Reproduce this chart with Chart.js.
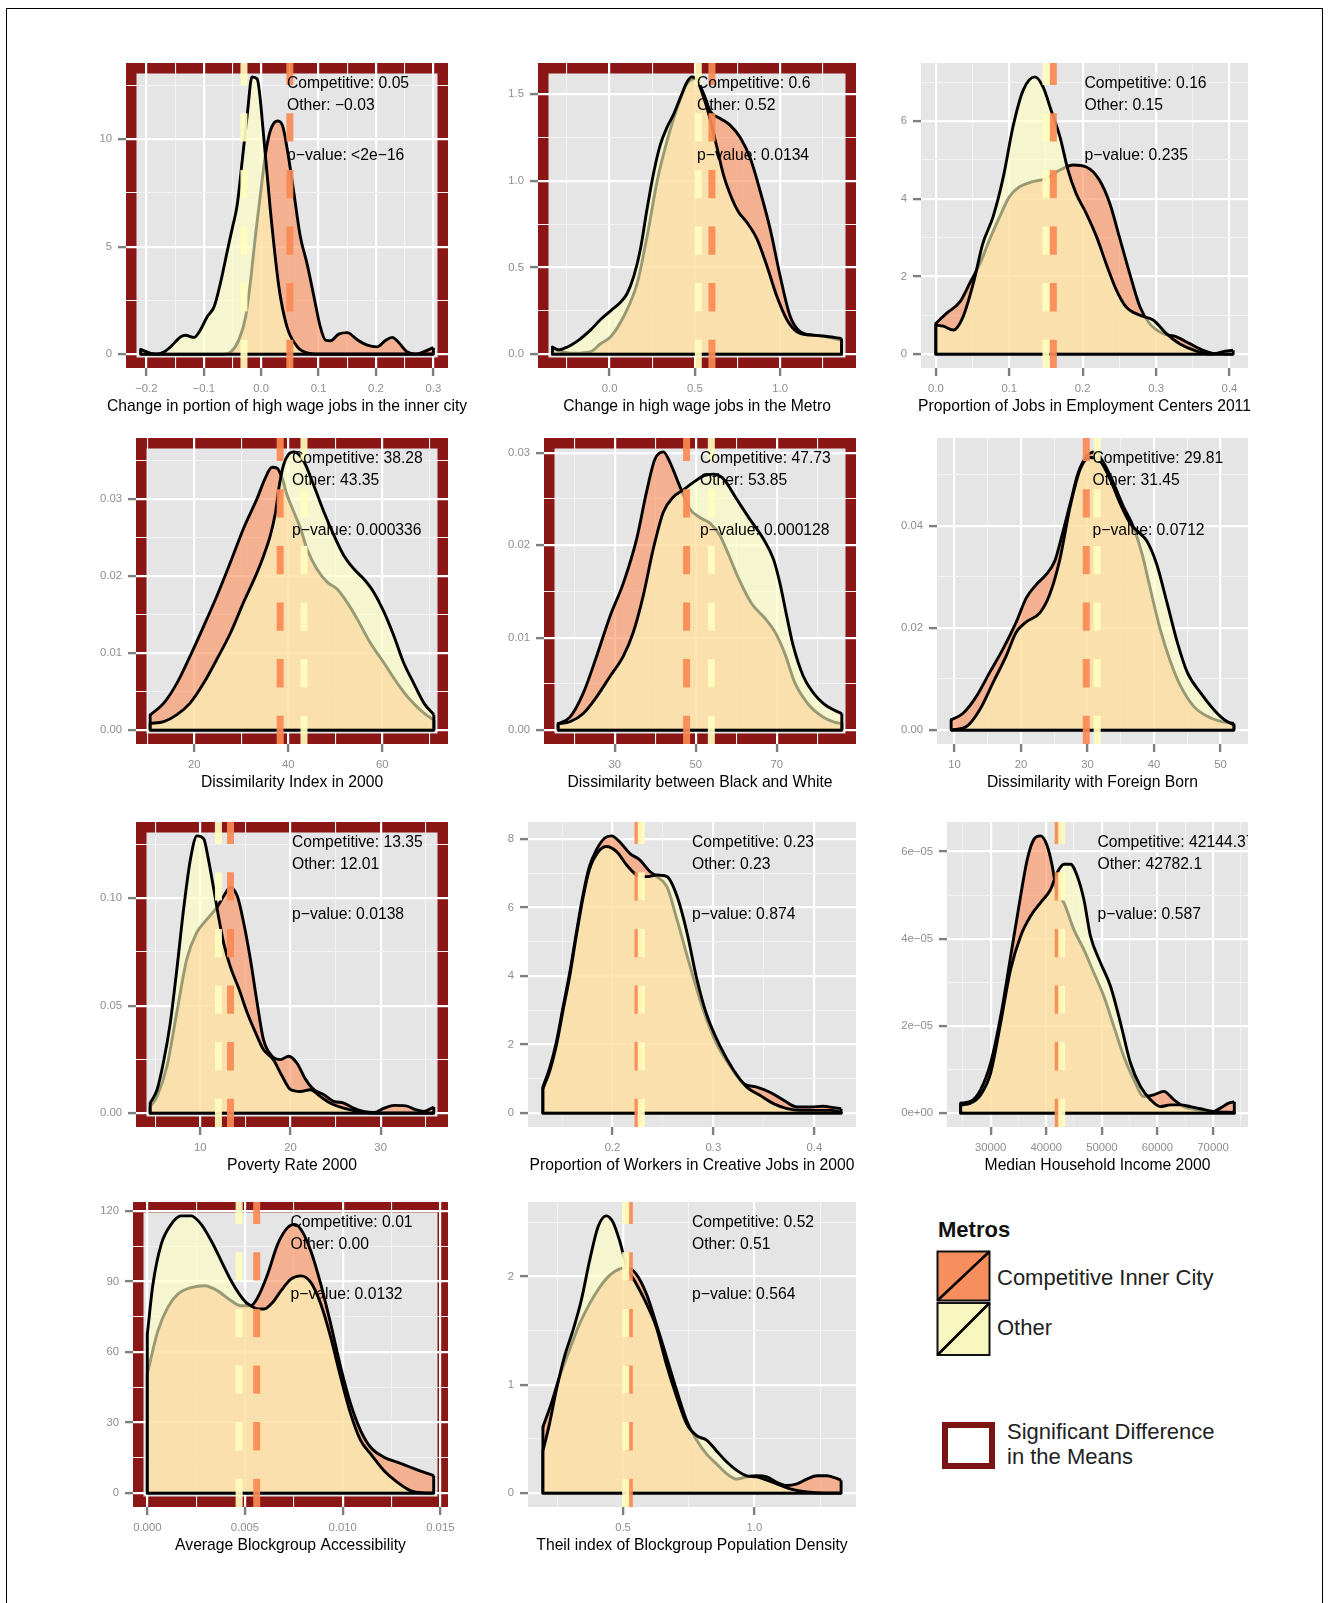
<!DOCTYPE html>
<html>
<head>
<meta charset="utf-8">
<title>Metro density comparison</title>
<script src="https://cdn.jsdelivr.net/npm/chart.js@4.4.0/dist/chart.umd.min.js"></script>
<style>
  html, body { margin: 0; padding: 0; background: #ffffff; }
  body { width: 1330px; height: 1603px; position: relative; overflow: hidden;
         font-family: 'Liberation Sans', Arial, Helvetica, sans-serif; }
  #frame { position: absolute; left: 6px; top: 8px; width: 1317px; height: 1610px;
           border: 1px solid #000; box-sizing: border-box; }
  canvas { position: absolute; }
  .lg { position: absolute; font-size: 22px; color: #222; line-height: 26px; white-space: nowrap; }
  .lg-title { font-weight: bold; color: #111; }
</style>
</head>
<body>
<div id="frame"></div>

<svg style="position:absolute;left:936px;top:1250px" width="56" height="108">
  <rect x="1.5" y="1.5" width="52" height="49" fill="#F68E5D" stroke="#111" stroke-width="2"/>
  <line x1="1.5" y1="50.5" x2="53.5" y2="1.5" stroke="#000" stroke-width="2.6"/>
  <rect x="1.5" y="53" width="52" height="52" fill="#F8F7BF" stroke="#111" stroke-width="2"/>
  <line x1="1.5" y1="105" x2="53.5" y2="53" stroke="#000" stroke-width="2.6"/>
</svg>
<svg style="position:absolute;left:942px;top:1422px" width="54" height="48">
  <rect x="3" y="3" width="47" height="41" fill="#ffffff" stroke="#7A1414" stroke-width="6"/>
</svg>
<div class="lg lg-title" style="left:938px;top:1217px;">Metros</div>
<div class="lg" style="left:997px;top:1265px;">Competitive Inner City</div>
<div class="lg" style="left:997px;top:1315px;">Other</div>
<div class="lg" style="left:1007px;top:1419px;">Significant Difference</div>
<div class="lg" style="left:1007px;top:1444px;">in the Means</div>

<script>
// ---------------------------------------------------------------
// Density estimates, as [value, density] pairs, one pair list per
// group and variable.
// ---------------------------------------------------------------
const innerComp = [[-0.21,0],[-0.065,0],[-0.053,0.1],[-0.039,0.65],[-0.027,1.74],[-0.019,3.3],[-0.010,5.5],[-0.001,7.5],[0.0075,9.3],[0.016,10.4],[0.028,10.85],[0.037,10.65],[0.045,9.6],[0.057,7.5],[0.068,5.5],[0.080,4.2],[0.092,2.67],[0.103,1.27],[0.112,0.65],[0.121,0.62],[0.135,0.93],[0.150,1.0],[0.167,0.68],[0.185,0.42],[0.202,0.34],[0.216,0.62],[0.228,0.78],[0.240,0.53],[0.254,0.11],[0.269,0],[0.283,0.11],[0.30,0.3]];
const innerOther = [[-0.21,0.22],[-0.195,0.06],[-0.181,0],[-0.168,0.12],[-0.158,0.34],[-0.140,0.81],[-0.132,0.88],[-0.117,0.78],[-0.106,1.12],[-0.094,1.74],[-0.082,2.2],[-0.071,3.3],[-0.059,4.8],[-0.050,5.9],[-0.042,6.9],[-0.033,9.0],[-0.024,11.2],[-0.016,12.9],[-0.007,12.8],[0.005,9.95],[0.016,6.7],[0.031,3.1],[0.045,1.27],[0.063,0.34],[0.080,0.06],[0.103,0],[0.30,0]];

const metroComp = [[-0.335,0.04],[-0.30,0.02],[-0.25,0.008],[-0.20,0.005],[-0.111,0.014],[-0.053,0.06],[0.006,0.10],[0.084,0.22],[0.162,0.41],[0.22,0.68],[0.279,1.0],[0.337,1.23],[0.396,1.42],[0.454,1.56],[0.503,1.59],[0.552,1.5],[0.591,1.40],[0.649,1.36],[0.708,1.32],[0.766,1.25],[0.825,1.13],[0.883,0.94],[0.942,0.72],[1.0,0.45],[1.058,0.22],[1.117,0.13],[1.195,0.11],[1.273,0.10],[1.36,0.08]];
const metroOther = [[-0.335,0.04],[-0.30,0.025],[-0.25,0.04],[-0.189,0.075],[-0.111,0.14],[-0.053,0.2],[0.006,0.25],[0.064,0.3],[0.103,0.35],[0.142,0.45],[0.181,0.607],[0.22,0.84],[0.259,1.05],[0.298,1.21],[0.337,1.31],[0.376,1.385],[0.415,1.48],[0.454,1.57],[0.483,1.6],[0.513,1.58],[0.552,1.48],[0.591,1.35],[0.63,1.19],[0.669,1.03],[0.708,0.92],[0.756,0.82],[0.805,0.76],[0.864,0.665],[0.922,0.51],[0.98,0.335],[1.039,0.2],[1.097,0.13],[1.175,0.11],[1.253,0.105],[1.36,0.09]];

const centersComp = [[0,0.79],[0.0145,1.05],[0.033,1.35],[0.046,1.82],[0.06,2.33],[0.073,2.94],[0.087,3.54],[0.1,4.05],[0.114,4.31],[0.132,4.44],[0.15,4.52],[0.169,4.74],[0.187,4.87],[0.205,4.82],[0.223,4.48],[0.237,3.88],[0.25,3.02],[0.264,2.08],[0.278,1.22],[0.291,0.79],[0.309,0.53],[0.327,0.45],[0.346,0.27],[0.364,0.1],[0.377,0.02],[0.405,0]];
const centersOther = [[0,0.75],[0.01,0.72],[0.024,0.62],[0.037,0.96],[0.051,1.82],[0.064,2.85],[0.078,3.54],[0.092,4.57],[0.105,5.85],[0.119,6.8],[0.135,7.14],[0.146,6.88],[0.157,6.28],[0.169,5.6],[0.18,4.74],[0.191,4.14],[0.205,3.62],[0.219,3.02],[0.232,2.33],[0.246,1.65],[0.259,1.22],[0.278,1.0],[0.296,0.88],[0.314,0.53],[0.332,0.27],[0.355,0.08],[0.377,0],[0.39,0.06],[0.405,0.1]];

const dissimComp = [[10.6,0.00196],[13.5,0.0035],[16.3,0.0061],[19.1,0.0096],[22.0,0.0135],[24.8,0.0174],[27.7,0.0218],[30.5,0.0262],[33.4,0.0301],[35.1,0.0327],[36.55,0.0341],[37.6,0.034],[38.7,0.0327],[39.75,0.0305],[41.2,0.0283],[42.6,0.0262],[44.0,0.0235],[46.1,0.0209],[48.3,0.0192],[50.4,0.0183],[52.5,0.0166],[54.7,0.0144],[57.5,0.0113],[60.4,0.0087],[63.2,0.0061],[66.0,0.0039],[68.9,0.0022],[71.0,0.0013]];
const dissimOther = [[10.6,0.00087],[13.5,0.0011],[16.3,0.002],[19.1,0.0035],[22.0,0.0061],[24.8,0.0092],[27.7,0.0126],[30.5,0.0166],[33.4,0.0205],[34.8,0.0227],[36.2,0.0253],[37.3,0.0283],[38.0,0.0314],[39.0,0.0344],[40.1,0.0358],[41.2,0.0361],[43.3,0.0349],[45.4,0.0318],[47.6,0.0283],[49.7,0.0253],[51.8,0.0227],[54.0,0.0209],[56.1,0.0196],[58.2,0.0179],[60.4,0.0153],[62.5,0.0122],[64.6,0.0087],[66.7,0.0061],[68.9,0.0035],[71.0,0.002]];

const bwComp = [[16.0,0.0007],[18.9,0.0014],[22.2,0.004],[25.5,0.008],[28.8,0.0123],[32.1,0.0159],[35.4,0.0207],[37.8,0.0257],[39.9,0.0293],[42.0,0.0301],[43.6,0.029],[45.3,0.0272],[46.5,0.0259],[48.6,0.0239],[51.0,0.023],[53.5,0.0224],[55.9,0.0211],[58.1,0.019],[60.5,0.0165],[63.8,0.0137],[67.1,0.0121],[69.6,0.0106],[72.0,0.0083],[74.5,0.0051],[77.8,0.0028],[81.5,0.0014],[84.0,0.0009],[86.1,0.0007]];
const bwOther = [[16.0,0.0007],[18.9,0.0009],[22.2,0.0018],[25.5,0.0036],[28.8,0.0058],[32.1,0.008],[34.5,0.0105],[37.0,0.0145],[39.5,0.0196],[42.0,0.0236],[44.4,0.0252],[46.9,0.026],[49.4,0.0268],[51.9,0.0275],[54.3,0.0277],[56.8,0.0272],[60.1,0.025],[63.4,0.0228],[66.7,0.0207],[69.2,0.0185],[70.8,0.0159],[72.5,0.0123],[74.1,0.0091],[76.6,0.0058],[79.1,0.004],[81.5,0.0029],[84.0,0.0022],[86.1,0.0018]];

const fbComp = [[9.5,0.002],[11.3,0.0033],[13.3,0.0066],[15.3,0.0113],[17.3,0.0159],[19.3,0.0212],[20.8,0.0259],[22.3,0.0285],[23.8,0.0305],[25.1,0.0332],[26.1,0.0378],[27.4,0.0444],[28.6,0.0504],[29.9,0.0537],[31.1,0.0545],[32.4,0.0524],[33.9,0.0484],[35.4,0.0438],[36.9,0.0398],[38.2,0.0345],[39.4,0.0279],[40.9,0.0199],[42.5,0.0133],[44.0,0.0086],[46.0,0.0046],[48.0,0.0027],[50.0,0.0017],[52.0,0.0013]];
const fbOther = [[9.5,0],[11.8,0.0007],[13.8,0.004],[15.8,0.0093],[17.8,0.0146],[19.3,0.0192],[20.8,0.0212],[22.8,0.0229],[24.3,0.0265],[25.8,0.0332],[27.4,0.0438],[28.9,0.0511],[30.4,0.0534],[31.9,0.0527],[33.4,0.0491],[34.9,0.0444],[36.4,0.0405],[37.9,0.0385],[38.9,0.0371],[40.4,0.0325],[41.9,0.0252],[43.5,0.0172],[45.0,0.0113],[47.0,0.0073],[49.0,0.004],[50.5,0.0021],[52.0,0.001]];

const povComp = [[4.44,0.003],[5.2,0.0078],[6.3,0.0218],[7.4,0.047],[8.5,0.0717],[9.6,0.084],[10.7,0.09],[11.85,0.0958],[12.6,0.101],[13.3,0.105],[14.1,0.101],[14.8,0.0888],[15.55,0.0717],[16.3,0.0514],[17.0,0.0343],[17.96,0.0265],[18.9,0.0249],[19.8,0.0265],[20.7,0.0234],[21.7,0.0156],[22.6,0.0109],[23.7,0.0086],[24.8,0.0055],[25.9,0.0047],[27.0,0.0023],[28.1,0.0008],[29.3,0.0003],[30.4,0.0023],[31.5,0.0036],[32.8,0.0034],[33.9,0.0016],[34.8,0.0008],[35.9,0.0028]];
const povOther = [[4.44,0.0047],[5.2,0.0109],[5.9,0.0234],[6.67,0.042],[7.4,0.067],[8.15,0.095],[8.9,0.118],[9.63,0.129],[10.37,0.1277],[10.9,0.118],[11.5,0.104],[12.0,0.092],[12.6,0.079],[13.3,0.0685],[14.3,0.0576],[15.2,0.0467],[16.3,0.0358],[17.0,0.0296],[18.1,0.0249],[19.1,0.017],[20.0,0.011],[21.1,0.0101],[22.2,0.0109],[23.3,0.0078],[24.4,0.0047],[25.9,0.0023],[27.4,0.0008],[29.3,0],[35.9,0]];

const creativeComp = [[0.131,0.76],[0.138,1.35],[0.144,2.03],[0.151,3.1],[0.158,4.17],[0.164,5.24],[0.171,6.41],[0.177,7.19],[0.184,7.68],[0.192,8.02],[0.199,8.09],[0.207,7.92],[0.217,7.58],[0.227,7.39],[0.237,7.05],[0.244,6.9],[0.254,6.6],[0.264,5.63],[0.277,4.27],[0.29,3.0],[0.303,2.03],[0.317,1.35],[0.33,0.86],[0.343,0.76],[0.356,0.61],[0.37,0.37],[0.383,0.18],[0.396,0.18],[0.409,0.2],[0.419,0.16],[0.4265,0.13]];
const creativeOther = [[0.131,0.71],[0.138,1.25],[0.144,1.93],[0.151,3.0],[0.158,4.07],[0.164,5.15],[0.171,6.32],[0.177,7.1],[0.186,7.63],[0.194,7.78],[0.204,7.63],[0.214,7.24],[0.224,6.95],[0.234,6.9],[0.244,6.95],[0.254,6.9],[0.264,6.32],[0.274,5.24],[0.283,3.98],[0.293,2.9],[0.307,1.93],[0.32,1.25],[0.333,0.76],[0.346,0.52],[0.36,0.27],[0.373,0.13],[0.386,0.08],[0.403,0.08],[0.416,0.08],[0.4265,0.03]];

const incomeComp = [[24610,2.3e-6],[26400,2.7e-6],[28200,5.4e-6],[30000,1.15e-5],[31800,2.22e-5],[33600,3.6e-5],[35090,4.75e-5],[36590,5.82e-5],[37780,6.28e-5],[38980,6.36e-5],[40180,6.13e-5],[41080,5.67e-5],[41680,5.21e-5],[41980,5.06e-5],[43170,4.83e-5],[44970,4.21e-5],[46770,3.75e-5],[48560,3.22e-5],[50360,2.68e-5],[52160,1.99e-5],[53950,1.3e-5],[55750,7.7e-6],[57550,3.8e-6],[59340,4.2e-6],[61140,5e-6],[62930,3.1e-6],[64730,1.5e-6],[67120,7.7e-7],[69520,1.5e-7],[71320,1.15e-6],[72820,2.3e-6],[73830,2.6e-6]];
const incomeOther = [[24610,1.9e-6],[26400,2.3e-6],[28200,4.2e-6],[30000,9.2e-6],[31800,2.07e-5],[33600,3.3e-5],[35390,4.06e-5],[37190,4.52e-5],[38980,4.83e-5],[40780,5.13e-5],[41980,5.52e-5],[43170,5.71e-5],[44370,5.71e-5],[45570,5.44e-5],[46770,4.9e-5],[47960,4.06e-5],[49760,3.45e-5],[51560,2.91e-5],[53350,2.07e-5],[55150,1.15e-5],[56950,6.1e-6],[58740,3.1e-6],[60540,1.5e-6],[62330,1.9e-6],[64130,1.9e-6],[65930,1.5e-6],[67720,1e-6],[70120,3.8e-7],[73830,1.5e-7]];

const accessComp = [[0,50.7],[0.00054,69],[0.00105,79],[0.00156,84.6],[0.00224,87.4],[0.00293,88.2],[0.00361,86],[0.00429,81.8],[0.0048,79.7],[0.0053,79.7],[0.00565,83.2],[0.00616,93.1],[0.00667,105.8],[0.00718,112.9],[0.00752,114.3],[0.00786,112.2],[0.00837,103],[0.00888,88.9],[0.00939,71.9],[0.0099,53.5],[0.01041,37.9],[0.01092,26.6],[0.01143,19.5],[0.01211,15.3],[0.01279,13.2],[0.01347,11],[0.01415,8.9],[0.01466,7.5]];
const accessOther = [[0,67.6],[0.00029,88.9],[0.00071,105.8],[0.00122,114.3],[0.00173,117.9],[0.00224,117.9],[0.00276,114.3],[0.00327,107.3],[0.00378,98.8],[0.00429,90.3],[0.00471,84.6],[0.00505,81.1],[0.0053,79.7],[0.00565,78.3],[0.00599,78.3],[0.00641,81.1],[0.00684,86.0],[0.00735,91.0],[0.00786,92.4],[0.00837,89.6],[0.00888,80.4],[0.00939,66.2],[0.0099,49.2],[0.01041,33.7],[0.01092,22.4],[0.01143,16.7],[0.01211,9.6],[0.01279,4.7],[0.01347,1.1],[0.01415,0.1],[0.01466,0]];

const theilComp = [[0.195,0.61],[0.226,0.82],[0.258,1.07],[0.296,1.32],[0.334,1.56],[0.373,1.75],[0.411,1.9],[0.449,2.01],[0.487,2.07],[0.519,2.08],[0.551,2.02],[0.589,1.84],[0.627,1.56],[0.665,1.26],[0.704,0.95],[0.742,0.67],[0.78,0.49],[0.818,0.36],[0.856,0.27],[0.894,0.18],[0.933,0.13],[0.971,0.15],[1.009,0.16],[1.047,0.15],[1.085,0.1],[1.123,0.07],[1.162,0.086],[1.2,0.13],[1.238,0.16],[1.276,0.16],[1.307,0.14],[1.33,0.12]];
const theilOther = [[0.195,0.39],[0.22,0.64],[0.246,0.95],[0.277,1.26],[0.309,1.5],[0.341,1.78],[0.373,2.15],[0.405,2.46],[0.436,2.56],[0.462,2.5],[0.487,2.33],[0.513,2.1],[0.551,1.93],[0.589,1.75],[0.627,1.53],[0.665,1.19],[0.704,0.89],[0.742,0.64],[0.78,0.53],[0.818,0.49],[0.856,0.39],[0.894,0.29],[0.933,0.21],[0.971,0.16],[1.009,0.15],[1.047,0.12],[1.085,0.086],[1.136,0.04],[1.2,0.01],[1.263,0],[1.33,0]];

// Group means and test results, one entry per variable
const compMeans  = [0.05, 0.6, 0.16, 38.28, 47.73, 29.81, 13.35, 0.2252, 42144.37, 0.0056, 0.524];
const otherMeans = [-0.03, 0.52, 0.15, 43.35, 53.85, 31.45, 12.01, 0.2285, 42782.1, 0.0047, 0.51];
const pValues = ['<2e-16', '0.0134', '0.235', '0.000336', '0.000128', '0.0712', '0.0138', '0.874', '0.587', '0.0132', '0.564'];

const titles = [
  'Change in portion of high wage jobs in the inner city',
  'Change in high wage jobs in the Metro',
  'Proportion of Jobs in Employment Centers 2011',
  'Dissimilarity Index in 2000',
  'Dissimilarity between Black and White',
  'Dissimilarity with Foreign Born',
  'Poverty Rate 2000',
  'Proportion of Workers in Creative Jobs in 2000',
  'Median Household Income 2000',
  'Average Blockgroup Accessibility',
  'Theil index of Blockgroup Population Density'
];

// Axis break labels
const innerXTicks    = ['-0.2', '-0.1', '0.0', '0.1', '0.2', '0.3'];
const innerYTicks    = ['0', '5', '10'];
const metroXTicks    = ['0.0', '0.5', '1.0'];
const metroYTicks    = ['0.0', '0.5', '1.0', '1.5'];
const centersXTicks  = ['0.0', '0.1', '0.2', '0.3', '0.4'];
const centersYTicks  = ['0', '2', '4', '6'];
const dissimXTicks   = ['20', '40', '60'];
const dissimYTicks   = ['0.00', '0.01', '0.02', '0.03'];
const bwXTicks       = ['30', '50', '70'];
const bwYTicks       = ['0.00', '0.01', '0.02', '0.03'];
const fbXTicks       = ['10', '20', '30', '40', '50'];
const fbYTicks       = ['0.00', '0.02', '0.04'];
const povXTicks      = ['10', '20', '30'];
const povYTicks      = ['0.00', '0.05', '0.10'];
const creativeXTicks = ['0.2', '0.3', '0.4'];
const creativeYTicks = ['0', '2', '4', '6', '8'];
const incomeXTicks   = ['30000', '40000', '50000', '60000', '70000'];
const incomeYTicks   = ['0e+00', '2e-05', '4e-05', '6e-05'];
const accessXTicks   = ['0.000', '0.005', '0.010', '0.015'];
const accessYTicks   = ['0', '30', '60', '90', '120'];
const theilXTicks    = ['0.5', '1.0'];
const theilYTicks    = ['0', '1', '2'];

const compCurves  = [innerComp, metroComp, centersComp, dissimComp, bwComp, fbComp, povComp, creativeComp, incomeComp, accessComp, theilComp];
const otherCurves = [innerOther, metroOther, centersOther, dissimOther, bwOther, fbOther, povOther, creativeOther, incomeOther, accessOther, theilOther];
const xTickSets = [innerXTicks, metroXTicks, centersXTicks, dissimXTicks, bwXTicks, fbXTicks, povXTicks, creativeXTicks, incomeXTicks, accessXTicks, theilXTicks];
const yTickSets = [innerYTicks, metroYTicks, centersYTicks, dissimYTicks, bwYTicks, fbYTicks, povYTicks, creativeYTicks, incomeYTicks, accessYTicks, theilYTicks];

// ---------------------------------------------------------------
// Page layout: plotting-panel boxes [left, top, right, bottom]
// ---------------------------------------------------------------
const panelBoxes = [
  [126, 63, 448, 368], [538, 63, 856, 368], [921, 63, 1248, 368],
  [136, 438, 448, 744], [544, 438, 856, 744], [937, 438, 1248, 744],
  [136, 822, 448, 1127], [528, 822, 856, 1127], [947, 822, 1248, 1127],
  [133, 1202, 448, 1507], [528, 1202, 856, 1507]
];
const AXIS_W = 60, TOP_PAD = 16, RIGHT_PAD = 24, AXIS_H = 52;

const FONT = "'Liberation Sans', Arial, Helvetica, sans-serif";
const MINUS = '\u2212';
const FILL_COMP = 'rgba(252,141,89,0.6)';
const FILL_OTHER = 'rgba(255,255,191,0.6)';
const VLINE_COMP = 'rgba(250,138,84,0.92)';
const VLINE_OTHER = 'rgba(255,253,190,0.92)';
const CURVE_W = 2.9;

Chart.defaults.font.family = FONT;

function toPoints(arr) { return arr.map(([x, y]) => ({ x, y })); }

// closes a density polygon: the two end edges and the baseline
function outline(arr) {
  const a = arr[0], b = arr[arr.length - 1];
  return [{ x: a[0], y: a[1] }, { x: a[0], y: 0 }, { x: b[0], y: 0 }, { x: b[0], y: b[1] }];
}

// major breaks with labels, plus minor breaks halfway between them
function breakTicks(labels, min, max) {
  const vals = labels.map(Number);
  const step = vals[1] - vals[0];
  const ticks = [];
  for (let k = -1; k < vals.length; k++) {
    const mv = vals[0] + (k + 0.5) * step;
    if (mv > min && mv < max) ticks.push({ value: mv, minor: true });
  }
  vals.forEach((v, j) => ticks.push({ value: v, text: labels[j].replace('-', MINUS) }));
  ticks.sort((p, q) => p.value - q.value);
  return ticks;
}

function fmtMean(v) {
  let s = v.toFixed(2);
  const t = s.replace(/\.?0+$/, '');
  if (Number(t) !== 0) s = t;
  return s.replace('-', MINUS);
}

function panelPlugin(info) {
  return {
    id: 'panelDecor',
    beforeDraw(chart) {
      const { ctx, chartArea: a } = chart;
      ctx.save();
      ctx.fillStyle = '#E5E5E5';
      ctx.fillRect(a.left, a.top, a.right - a.left, a.bottom - a.top);
      if (info.significant) {
        const w = 10.5;
        ctx.strokeStyle = '#8B1616';
        ctx.lineWidth = w;
        ctx.strokeRect(a.left + w / 2, a.top + w / 2, a.right - a.left - w, a.bottom - a.top - w);
      }
      ctx.restore();
    },
    afterDatasetsDraw(chart) {
      const { ctx, chartArea: a, scales } = chart;
      ctx.save();
      ctx.beginPath();
      ctx.rect(a.left, a.top, a.right - a.left, a.bottom - a.top);
      ctx.clip();
      ctx.font = '15.7px ' + FONT;
      ctx.fillStyle = '#000';
      ctx.textAlign = 'left';
      ctx.textBaseline = 'middle';
      const px = scales.x.getPixelForValue(info.textX);
      ctx.fillText('Competitive: ' + info.compText, px, a.top + 20.5);
      ctx.fillText('Other: ' + info.otherText, px, a.top + 43);
      ctx.fillText('p' + MINUS + 'value: ' + info.pText, px, a.top + 93);
      ctx.restore();
    },
    afterDraw(chart) {
      // x-axis title, centred under the panel and free to run past its edges
      const { ctx, chartArea: a } = chart;
      ctx.save();
      ctx.font = '15.7px ' + FONT;
      ctx.fillStyle = '#000';
      ctx.textAlign = 'center';
      ctx.textBaseline = 'middle';
      ctx.fillText(info.title, (a.left + a.right) / 2, a.bottom + 39);
      ctx.restore();
    }
  };
}

for (let i = 0; i < titles.length; i++) {
  const comp = compCurves[i], other = otherCurves[i];
  const all = comp.concat(other);
  const xs = all.map(p => p[0]), ys = all.map(p => p[1]);
  const xLo = Math.min(...xs), xHi = Math.max(...xs);
  const yHi = Math.max(...ys);
  const xPad = (xHi - xLo) * 0.05, yPad = yHi * 0.05;
  const xMin = xLo - xPad, xMax = xHi + xPad, yMin = -yPad, yMax = yHi + yPad;

  const [L, T, R, B] = panelBoxes[i];
  const canvas = document.createElement('canvas');
  canvas.width = AXIS_W + (R - L) + RIGHT_PAD;
  canvas.height = TOP_PAD + (B - T) + AXIS_H;
  canvas.style.left = (L - AXIS_W) + 'px';
  canvas.style.top = (T - TOP_PAD) + 'px';
  document.body.appendChild(canvas);

  const pNum = parseFloat(pValues[i].replace('<', ''));
  const info = {
    significant: pNum < 0.05,
    textX: (xLo + xHi) / 2,
    compText: fmtMean(compMeans[i]),
    otherText: fmtMean(otherMeans[i]),
    pText: pValues[i].replace(/-/g, MINUS),
    title: titles[i]
  };

  const xTicks = breakTicks(xTickSets[i], xMin, xMax);
  const yTicks = breakTicks(yTickSets[i], yMin, yMax);

  const gridOpts = {
    color: c => (c.tick && c.tick.minor) ? '#F2F2F2' : '#FFFFFF',
    lineWidth: c => (c.tick && c.tick.minor) ? 1.1 : 2.2,
    tickColor: c => (c.tick && c.tick.minor) ? 'rgba(0,0,0,0)' : '#7F7F7F',
    tickWidth: 2.4,
    tickLength: 8,
    drawTicks: true
  };
  const tickOpts = {
    autoSkip: false,
    maxRotation: 0,
    color: '#8E8E8E',
    font: { family: FONT, size: 11.3 },
    callback: (v, idx, ticks) => ticks[idx].minor ? '' : ticks[idx].text
  };

  new Chart(canvas, {
    type: 'line',
    data: {
      datasets: [
        { data: toPoints(comp), borderColor: '#000', borderWidth: CURVE_W, backgroundColor: FILL_COMP,
          fill: 'origin', cubicInterpolationMode: 'monotone', order: 6 },
        { data: outline(comp), borderColor: '#000', borderWidth: CURVE_W, fill: false, tension: 0, order: 5.5 },
        { data: toPoints(other), borderColor: '#000', borderWidth: CURVE_W, backgroundColor: FILL_OTHER,
          fill: 'origin', cubicInterpolationMode: 'monotone', order: 5 },
        { data: outline(other), borderColor: '#000', borderWidth: CURVE_W, fill: false, tension: 0, order: 4.5 },
        { data: [{ x: compMeans[i], y: yMin }, { x: compMeans[i], y: yMax }], borderColor: VLINE_COMP,
          borderWidth: 7, borderDash: [28.3, 28.3], borderCapStyle: 'butt', fill: false, tension: 0, order: 2 },
        { data: [{ x: otherMeans[i], y: yMin }, { x: otherMeans[i], y: yMax }], borderColor: VLINE_OTHER,
          borderWidth: 7, borderDash: [28.3, 28.3], borderCapStyle: 'butt', fill: false, tension: 0, order: 1 }
      ]
    },
    options: {
      responsive: false,
      animation: false,
      devicePixelRatio: 1,
      events: [],
      layout: { padding: { top: TOP_PAD, right: RIGHT_PAD, bottom: 0, left: 0 } },
      elements: { point: { radius: 0 }, line: { borderJoinStyle: 'round' } },
      plugins: { legend: { display: false }, tooltip: { enabled: false } },
      scales: {
        x: {
          type: 'linear', min: xMin, max: xMax, bounds: 'data',
          afterBuildTicks: s => { s.ticks = xTicks; },
          afterFit: s => { s.height = AXIS_H; },
          grid: gridOpts,
          border: { display: false },
          ticks: Object.assign({ padding: 6.2 }, tickOpts),
          title: { display: false }
        },
        y: {
          type: 'linear', min: yMin, max: yMax, bounds: 'data',
          afterBuildTicks: s => { s.ticks = yTicks; },
          afterFit: s => { s.width = AXIS_W; },
          grid: gridOpts,
          border: { display: false },
          ticks: Object.assign({ padding: 6 }, tickOpts)
        }
      }
    },
    plugins: [panelPlugin(info)]
  });
}
</script>
</body>
</html>
